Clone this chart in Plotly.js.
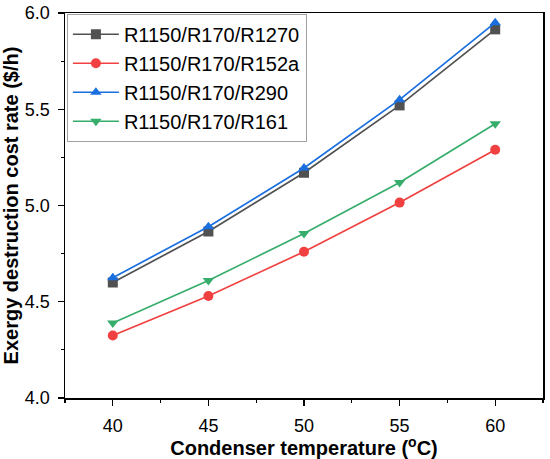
<!DOCTYPE html>
<html>
<head>
<meta charset="utf-8">
<script src="https://cdn.plot.ly/plotly-3.0.1.min.js"></script>
<style>
html,body{margin:0;padding:0;background:#fff;}
#chart{width:550px;height:459px;}
</style>
</head>
<body>
<div id="chart"></div>
<script>
const temps = [40, 45, 50, 55, 60];
const seriesNames = ["R1150/R170/R1270", "R1150/R170/R152a", "R1150/R170/R290", "R1150/R170/R161"];
const r1270 = [4.60, 4.865, 5.17, 5.52, 5.915];
const r152a = [4.325, 4.53, 4.76, 5.015, 5.29];
const r290 = [4.625, 4.89, 5.195, 5.55, 5.95];
const r161 = [4.39, 4.61, 4.855, 5.12, 5.425];
const xTicks = [40, 45, 50, 55, 60];
const yTicks = [4.0, 4.5, 5.0, 5.5, 6.0];

const colors = ["#515151", "#F14040", "#1A6FDF", "#37AD6B"];
const symbols = ["square", "circle", "triangle-up", "triangle-down"];
const values = [r1270, r152a, r290, r161];

const traces = values.map((v, i) => ({
  x: temps, y: v, name: seriesNames[i], type: "scatter", mode: "lines+markers",
  line: {color: colors[i], width: 1.7},
  marker: {color: colors[i], symbol: symbols[i], size: 10}
}));

const layout = {
  width: 550, height: 459,
  margin: {l: 65, r: 7, t: 13, b: 61},
  paper_bgcolor: "#fff", plot_bgcolor: "#fff",
  font: {family: "Arial, Liberation Sans, sans-serif", color: "#000"},
  showlegend: true,
  legend: {
    x: 0.004, y: 0.998, xanchor: "left", yanchor: "top",
    bgcolor: "rgba(255,255,255,1)", bordercolor: "#a0a0a0", borderwidth: 1,
    font: {size: 20, family: "Arial, Liberation Sans, sans-serif", color: "#000"},
    tracegroupgap: 0, itemwidth: 46
  },
  xaxis: {
    range: [37.5, 62.5], tickvals: xTicks, ticktext: xTicks.map(String),
    showgrid: false, zeroline: false,
    showline: true, linecolor: "#000", linewidth: 1.5, mirror: true,
    ticks: "outside", ticklen: 6, tickwidth: 1.3, tickcolor: "#000",
    minor: {dtick: 2.5, ticks: "outside", ticklen: 3, tickwidth: 1.2, tickcolor: "#000", showgrid: false},
    tickfont: {size: 18}, ticklabelstandoff: 5,
    title: {text: "Condenser temperature (<sup>o</sup>C)", font: {size: 20, weight: "bold"}, standoff: 4}
  },
  yaxis: {
    range: [4.0, 6.0], tickvals: yTicks, ticktext: yTicks.map(v => v.toFixed(1)),
    showgrid: false, zeroline: false,
    showline: true, linecolor: "#000", linewidth: 1.5, mirror: true,
    ticks: "outside", ticklen: 6, tickwidth: 1.3, tickcolor: "#000",
    minor: {dtick: 0.25, ticks: "outside", ticklen: 3, tickwidth: 1.2, tickcolor: "#000", showgrid: false},
    tickfont: {size: 18}, ticklabelstandoff: 4,
    title: {text: "Exergy destruction cost rate ($/h)", font: {size: 20, weight: "bold"}, standoff: 4}
  }
};

Plotly.newPlot("chart", traces, layout, {displayModeBar: false, staticPlot: true});
</script>
</body>
</html>
